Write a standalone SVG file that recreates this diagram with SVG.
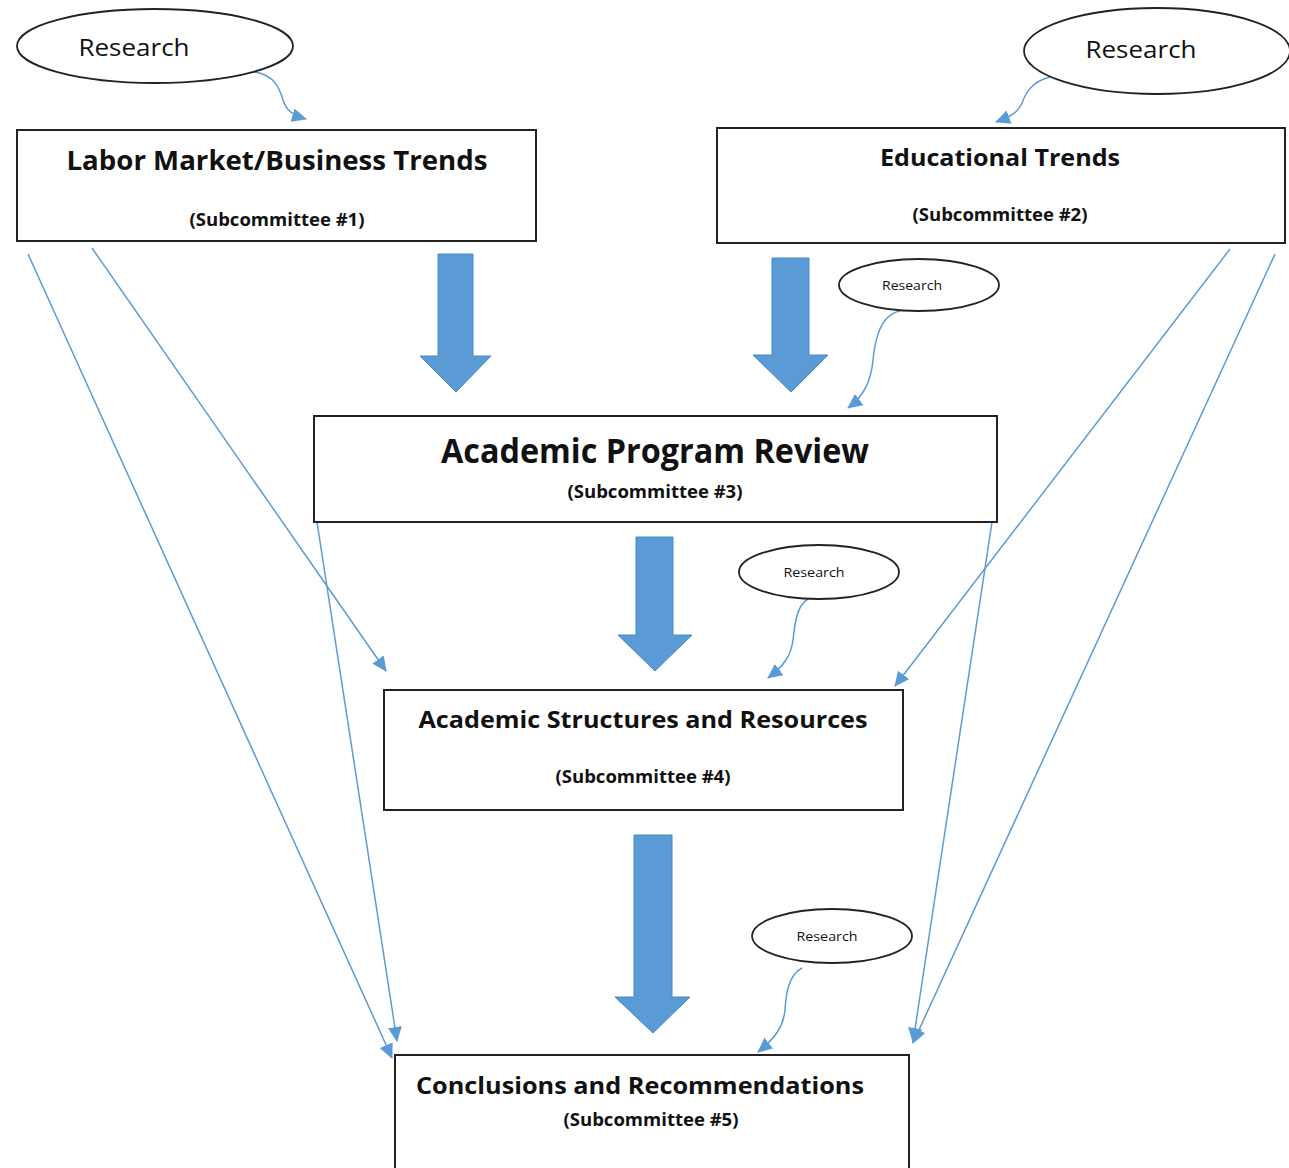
<svg xmlns="http://www.w3.org/2000/svg" width="1289" height="1168" viewBox="0 0 1289 1168">
<defs>
<style>
.box{fill:#fff;stroke:#222;stroke-width:2}
.ell{fill:#fff;stroke:#222;stroke-width:1.8}
.t{font-family:"Open Sans","Liberation Sans",sans-serif;fill:#111;text-anchor:middle}
.b{font-weight:bold}
.con{fill:none;stroke:#5B9BD5;stroke-width:1.5}
.blk{fill:#5B9BD5;stroke:#4A89C4;stroke-width:1}
</style>
<marker id="ah" markerUnits="userSpaceOnUse" markerWidth="16" markerHeight="14" refX="14" refY="7" orient="auto">
<path d="M0,0 L15,7 L0,14 Z" fill="#5B9BD5"/>
</marker>
</defs>
<rect width="1289" height="1168" fill="#fff"/>

<g id="connectors">
<path class="con" d="M28,254 L392,1058" marker-end="url(#ah)"/>
<path class="con" d="M92,248 L386,671" marker-end="url(#ah)"/>
<path class="con" d="M317,522 L397,1041" marker-end="url(#ah)"/>
<path class="con" d="M1230,249 L895,686" marker-end="url(#ah)"/>
<path class="con" d="M1275,254 L913,1043" marker-end="url(#ah)"/>
<path class="con" d="M992,522 L913,1042" marker-end="url(#ah)"/>
<path class="con" d="M255,72 C275,75 280,90 283,100 C286,110 292,115 306,119" marker-end="url(#ah)"/>
<path class="con" d="M1050,77 C1030,82 1025,95 1022,103 C1018,112 1012,116 996,122" marker-end="url(#ah)"/>
<path class="con" d="M900,311 C880,315 875,340 873,360 C871,380 865,395 848,408" marker-end="url(#ah)"/>
<path class="con" d="M813,597 C798,600 795,620 793,640 C791,655 785,665 768,678" marker-end="url(#ah)"/>
<path class="con" d="M802,968 C788,975 786,995 785,1010 C783,1028 775,1038 758,1052" marker-end="url(#ah)"/>
<polygon class="blk" points="438,254 473,254 473,356 491,356 456,392 420,356 438,356"/>
<polygon class="blk" points="772,258 809,258 809,355 828,355 791,392 753,355 772,355"/>
<polygon class="blk" points="636,537 673,537 673,635 692,635 655,671 618,635 636,635"/>
<polygon class="blk" points="634,835 672,835 672,997 690,997 653,1033 615,997 634,997"/>
</g>

<g id="research1">
<ellipse class="ell" cx="155" cy="46" rx="138" ry="37"/>
<text class="t" x="134" y="56" font-size="24" textLength="111" lengthAdjust="spacingAndGlyphs">Research</text>
</g>
<g id="research2">
<ellipse class="ell" cx="1157" cy="51" rx="133" ry="43"/>
<text class="t" x="1141" y="58" font-size="24" textLength="111" lengthAdjust="spacingAndGlyphs">Research</text>
</g>
<g id="research3">
<ellipse class="ell" cx="919" cy="285" rx="80" ry="26"/>
<text class="t" x="912" y="290" font-size="13" textLength="60" lengthAdjust="spacingAndGlyphs">Research</text>
</g>
<g id="research4">
<ellipse class="ell" cx="819" cy="572" rx="80" ry="27"/>
<text class="t" x="814" y="577" font-size="13" textLength="61" lengthAdjust="spacingAndGlyphs">Research</text>
</g>
<g id="research5">
<ellipse class="ell" cx="832" cy="936" rx="80" ry="27"/>
<text class="t" x="827" y="941" font-size="13" textLength="61" lengthAdjust="spacingAndGlyphs">Research</text>
</g>

<g id="sub1">
<rect class="box" x="17" y="130" width="519" height="111"/>
<text class="t b" x="277" y="170" font-size="26" textLength="421" lengthAdjust="spacingAndGlyphs">Labor Market/Business Trends</text>
<text class="t b" x="277" y="226" font-size="18" textLength="175" lengthAdjust="spacingAndGlyphs">(Subcommittee #1)</text>
</g>
<g id="sub2">
<rect class="box" x="717" y="128" width="568" height="115"/>
<text class="t b" x="1000" y="166" font-size="24" textLength="240" lengthAdjust="spacingAndGlyphs">Educational Trends</text>
<text class="t b" x="1000" y="221" font-size="18" textLength="175" lengthAdjust="spacingAndGlyphs">(Subcommittee #2)</text>
</g>
<g id="sub3">
<rect class="box" x="314" y="416" width="683" height="106"/>
<text class="t b" x="655" y="463" font-size="34" textLength="428" lengthAdjust="spacingAndGlyphs">Academic Program Review</text>
<text class="t b" x="655" y="498" font-size="18" textLength="175" lengthAdjust="spacingAndGlyphs">(Subcommittee #3)</text>
</g>
<g id="sub4">
<rect class="box" x="384" y="690" width="519" height="120"/>
<text class="t b" x="643" y="728" font-size="24" textLength="449" lengthAdjust="spacingAndGlyphs">Academic Structures and Resources</text>
<text class="t b" x="643" y="783" font-size="18" textLength="175" lengthAdjust="spacingAndGlyphs">(Subcommittee #4)</text>
</g>
<g id="sub5">
<rect class="box" x="395" y="1055" width="514" height="130"/>
<text class="t b" x="640" y="1094" font-size="24" textLength="448" lengthAdjust="spacingAndGlyphs">Conclusions and Recommendations</text>
<text class="t b" x="651" y="1126" font-size="18" textLength="175" lengthAdjust="spacingAndGlyphs">(Subcommittee #5)</text>
</g>
</svg>
